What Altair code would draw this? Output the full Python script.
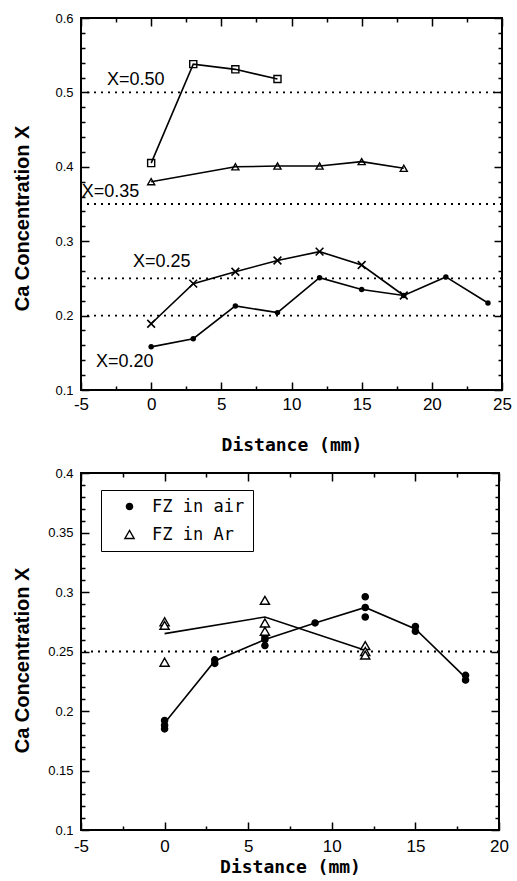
import altair as alt
import pandas as pd

# ---------------- data: top panel ----------------
x050 = [0, 3, 6, 9]
y050 = [0.405, 0.538, 0.531, 0.518]
x035 = [0, 6, 9, 12, 15, 18]
y035 = [0.380, 0.400, 0.401, 0.401, 0.407, 0.398]
x025 = [0, 3, 6, 9, 12, 15, 18]
y025 = [0.189, 0.243, 0.259, 0.274, 0.286, 0.268, 0.227]
x020 = [0, 3, 6, 9, 12, 15, 18, 21, 24]
y020 = [0.158, 0.169, 0.213, 0.204, 0.251, 0.235, 0.227, 0.252, 0.217]
top_refs = [0.50, 0.35, 0.25, 0.20]
top_labels = ["X=0.50", "X=0.35", "X=0.25", "X=0.20"]
top_label_x = [-3.15, -4.95, -1.3, -3.93]
top_label_y = [0.517, 0.366, 0.272, 0.138]

# ---------------- data: bottom panel ----------------
air_x = [0, 0, 0, 3, 3, 6, 6, 6, 9, 12, 12, 12, 15, 15, 18, 18]
air_y = [0.192, 0.188, 0.185, 0.243, 0.240, 0.262, 0.255, 0.260, 0.274,
         0.296, 0.287, 0.279, 0.271, 0.267, 0.230, 0.226]
ar_x = [0, 0, 0, 6, 6, 6, 12, 12, 12]
ar_y = [0.275, 0.272, 0.241, 0.293, 0.274, 0.267, 0.255, 0.250, 0.247]
air_line_x = [0, 3, 6, 9, 12, 15, 18]
air_line_y = [0.190, 0.242, 0.260, 0.274, 0.287, 0.269, 0.228]
ar_line_x = [0, 6, 12]
ar_line_y = [0.265, 0.279, 0.251]
bot_refs = [0.25]
methods = ["FZ in air", "FZ in Ar"]

# tick positions
top_xlabels = [-5, 0, 5, 10, 15, 20, 25]
top_xticks = [-5 + 2.5 * i for i in range(13)]
top_ylabels = [0.1, 0.2, 0.3, 0.4, 0.5, 0.6]
top_yticks = [round(0.1 + 0.02 * i, 2) for i in range(26)]
bot_xlabels = [-5, 0, 5, 10, 15, 20]
bot_xticks = [-5 + 2.5 * i for i in range(11)]
bot_ylabels = [0.1, 0.15, 0.2, 0.25, 0.3, 0.35, 0.4]
bot_yticks = [round(0.1 + 0.01 * i, 2) for i in range(31)]

SANS = "Liberation Sans, Arial, sans-serif"
MONO = "DejaVu Sans Mono, monospace"

TW, TH = 421, 372
BW, BH = 418, 357

top_df = pd.concat([
    pd.DataFrame({"dist": x050, "conc": y050, "series": "X=0.50"}),
    pd.DataFrame({"dist": x035, "conc": y035, "series": "X=0.35"}),
    pd.DataFrame({"dist": x025, "conc": y025, "series": "X=0.25"}),
    pd.DataFrame({"dist": x020, "conc": y020, "series": "X=0.20"}),
], ignore_index=True)
top_ref_df = pd.DataFrame({"level": top_refs})
top_ann_df = pd.DataFrame({"label": top_labels, "x": top_label_x, "y": top_label_y})

air_df = pd.DataFrame({"dist": air_x, "conc": air_y, "method": "FZ in air"})
ar_df = pd.DataFrame({"dist": ar_x, "conc": ar_y, "method": "FZ in Ar"})
bot_pts_df = pd.concat([air_df, ar_df], ignore_index=True)
bot_line_df = pd.concat([
    pd.DataFrame({"dist": air_line_x, "conc": air_line_y, "method": "FZ in air"}),
    pd.DataFrame({"dist": ar_line_x, "conc": ar_line_y, "method": "FZ in Ar"}),
], ignore_index=True)
bot_ref_df = pd.DataFrame({"level": bot_refs})


def tick_axis(orient, offset, values, test):
    return alt.Axis(orient=orient, offset=offset, values=values, labels=False,
                    title=None, domain=False, grid=False, ticks=True,
                    tickColor="black", tickWidth=1.5,
                    tickSize={"condition": {"test": test, "value": 8}, "value": 4})


def label_xaxis(values, pad, tpad):
    return alt.Axis(orient="bottom", values=values, ticks=False, tickSize=0,
                    domain=False, grid=False, labelFlush=False,
                    labelExpr="'' + datum.value",
                    labelFont=SANS, labelFontSize=17, labelPadding=pad,
                    labelColor="black",
                    title="Distance (mm)", titleFont=MONO, titleFontSize=18,
                    titleFontWeight="bold", titlePadding=tpad, titleColor="black")


def label_yaxis(values, tpad, fmt, ty):
    return alt.Axis(orient="left", values=values, ticks=False, tickSize=0,
                    domain=False, grid=False, format=fmt,
                    labelFont=SANS, labelFontSize=13, labelPadding=8,
                    labelColor="black",
                    title="Ca Concentration X", titleFont=SANS, titleFontSize=20,
                    titleFontWeight="bold", titlePadding=tpad, titleColor="black",
                    titleY=ty)


# ---------------- top panel ----------------
XT = alt.Scale(domain=[-5, 25], nice=False, zero=False)
YT = alt.Scale(domain=[0.1, 0.6], nice=False, zero=False)
xmaj5 = "abs(datum.value % 5) < 0.001"
ymaj_t = "abs(datum.value * 10 - round(datum.value * 10)) < 0.001"

t_lines = alt.Chart(top_df).mark_line(color="black", strokeWidth=1.6).encode(
    x=alt.X("dist:Q", scale=XT, axis=label_xaxis(top_xlabels, 6.5, 24)),
    y=alt.Y("conc:Q", scale=YT, axis=label_yaxis(top_ylabels, 22, ".1f", 200)),
    detail="series:N",
)
t_sq = alt.Chart(top_df).transform_filter(alt.datum.series == "X=0.50").mark_point(
    shape="square", filled=False, color="black", strokeWidth=1.4, size=50, opacity=1
).encode(
    x=alt.X("dist:Q", scale=XT, axis=tick_axis("top", -TH, top_xticks, xmaj5)),
    y=alt.Y("conc:Q", scale=YT, axis=tick_axis("right", -TW, top_yticks, ymaj_t)),
)
t_tri = alt.Chart(top_df).transform_filter(alt.datum.series == "X=0.35").mark_point(
    shape="triangle-up", filled=False, color="black", strokeWidth=1.4, size=50, opacity=1
).encode(
    x=alt.X("dist:Q", scale=XT, axis=tick_axis("bottom", -TH, top_xticks, xmaj5)),
    y=alt.Y("conc:Q", scale=YT, axis=tick_axis("left", -TW, top_yticks, ymaj_t)),
)
t_x = alt.Chart(top_df).transform_filter(alt.datum.series == "X=0.25").mark_point(
    shape="M-1,-1L1,1M-1,1L1,-1", filled=False, color="black", strokeWidth=1.6,
    size=60, opacity=1
).encode(
    x=alt.X("dist:Q", scale=XT, axis=None),
    y=alt.Y("conc:Q", scale=YT, axis=None),
)
t_dot = alt.Chart(top_df).transform_filter(alt.datum.series == "X=0.20").mark_point(
    shape="circle", filled=True, color="black", size=30, opacity=1
).encode(
    x=alt.X("dist:Q", scale=XT, axis=None),
    y=alt.Y("conc:Q", scale=YT, axis=None),
)
t_ref = alt.Chart(top_ref_df).mark_rule(color="black", strokeWidth=1.8, strokeDash=[2, 5]).encode(
    y=alt.Y("level:Q", scale=YT, axis=None)
)
t_txt = alt.Chart(top_ann_df).mark_text(
    align="left", baseline="middle", font=SANS, fontSize=18, color="black"
).encode(
    x=alt.X("x:Q", scale=XT, axis=None),
    y=alt.Y("y:Q", scale=YT, axis=None),
    text="label:N",
)
top = alt.layer(t_ref, t_lines, t_sq, t_tri, t_x, t_dot, t_txt).resolve_axis(
    x="independent", y="independent"
).properties(width=TW, height=TH)

# ---------------- bottom panel ----------------
XB = alt.Scale(domain=[-5, 20], nice=False, zero=False)
YB = alt.Scale(domain=[0.1, 0.4], nice=False, zero=False)
ymaj_b = "abs(datum.value * 20 - round(datum.value * 20)) < 0.001"

leg = alt.Legend(orient="none", legendX=20, legendY=17, title=None,
                 strokeColor="black", fillColor="white", padding=8,
                 labelFont=MONO, labelFontSize=17, labelColor="black",
                 symbolOffset=12, labelOffset=14, rowPadding=10,
                 symbolStrokeWidth=1.4)

b_ref = alt.Chart(bot_ref_df).mark_rule(color="black", strokeWidth=1.8, strokeDash=[2, 5]).encode(
    y=alt.Y("level:Q", scale=YB, axis=None)
)
b_lines = alt.Chart(bot_line_df).mark_line(color="black", strokeWidth=1.6).encode(
    x=alt.X("dist:Q", scale=XB, axis=label_xaxis(bot_xlabels, 8, 4)),
    y=alt.Y("conc:Q", scale=YB, axis=label_yaxis(bot_ylabels, 15, ".2~f", 187)),
    detail="method:N",
)
b_pts = alt.Chart(bot_pts_df).mark_point(filled=True, strokeWidth=1.4, opacity=1).encode(
    x=alt.X("dist:Q", scale=XB, axis=tick_axis("top", -BH, bot_xticks, xmaj5)),
    y=alt.Y("conc:Q", scale=YB, axis=tick_axis("right", -BW, bot_yticks, ymaj_b)),
    shape=alt.Shape("method:N", scale=alt.Scale(domain=methods, range=["circle", "triangle-up"]), legend=leg),
    fill=alt.Fill("method:N", scale=alt.Scale(domain=methods, range=["black", "white"]), legend=leg),
    stroke=alt.Stroke("method:N", scale=alt.Scale(domain=methods, range=["black", "black"]), legend=leg),
    size=alt.Size("method:N", scale=alt.Scale(domain=methods, range=[38, 85]), legend=leg),
)
b_ticks2 = alt.Chart(bot_pts_df).mark_point(opacity=0).encode(
    x=alt.X("dist:Q", scale=XB, axis=tick_axis("bottom", -BH, bot_xticks, xmaj5)),
    y=alt.Y("conc:Q", scale=YB, axis=tick_axis("left", -BW, bot_yticks, ymaj_b)),
)
bottom = alt.layer(b_ref, b_lines, b_ticks2, b_pts).resolve_axis(
    x="independent", y="independent"
).properties(width=BW, height=BH)

chart = alt.vconcat(top, bottom, spacing=10).resolve_legend(
    shape="independent", fill="independent", size="independent", stroke="independent"
).properties(
    padding={"left": 11, "top": 11, "right": 2, "bottom": 2},
    background="white",
).configure_view(stroke="black", strokeWidth=2)

chart.save("out.html", embed_options={"renderer": "svg", "actions": False})
